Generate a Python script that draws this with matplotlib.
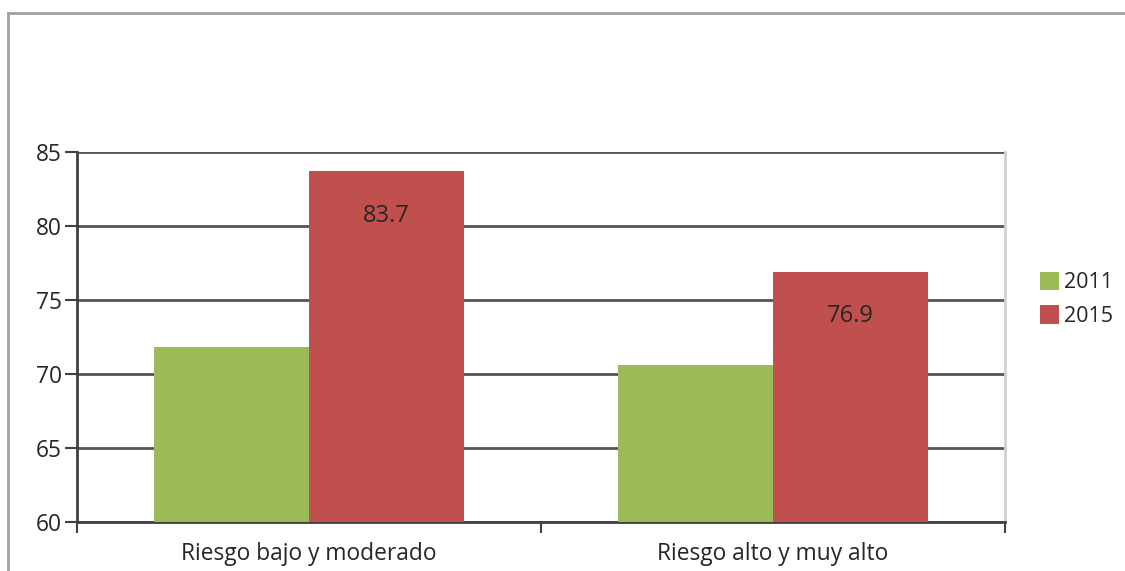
import matplotlib
matplotlib.use("Agg")
import matplotlib.pyplot as plt
from matplotlib.lines import Line2D
import numpy as np

categories = ["Riesgo bajo y moderado", "Riesgo alto y muy alto"]
series_names = ["2011", "2015"]
values_2011 = [71.8, 70.6]
values_2015 = [83.7, 76.9]
colors = ["#9BBB59", "#C0504D"]

plt.rcParams["font.family"] = ["Open Sans", "DejaVu Sans"]
text_color = "#262626"

fig = plt.figure(figsize=(11.25, 5.71), dpi=100)
ax = fig.add_axes([77 / 1125, 49 / 571, 928 / 1125, 370 / 571])

x = np.arange(len(categories))
w = 1 / 3
bars_a = ax.bar(x - w / 2, values_2011, width=w, color=colors[0], label=series_names[0], zorder=3)
bars_b = ax.bar(x + w / 2, values_2015, width=w, color=colors[1], label=series_names[1], zorder=3)

# values printed inside the top of the 2015 bars
for rect, v in zip(bars_b, values_2015):
    ax.annotate(f"{v:.1f}", xy=(rect.get_x() + rect.get_width() / 2, v),
                xytext=(0, -32), textcoords="offset points",
                ha="center", va="center", fontsize=17, color=text_color, zorder=4)

ax.set_ylim(60, 85)
ax.set_xlim(-0.5, len(categories) - 0.5)
ax.set_yticks(np.arange(60, 86, 5))
ax.yaxis.grid(True, color="#555555", linewidth=2, zorder=0)
ax.set_axisbelow(True)

# category labels centred between boundary ticks
ax.set_xticks(np.arange(-0.5, len(categories), 1.0))
ax.set_xticklabels([])
ax.set_xticks(x, minor=True)
ax.set_xticklabels(categories, minor=True, fontsize=16.4, color=text_color)
ax.tick_params(axis="x", which="minor", length=0, pad=14.5)
ax.tick_params(axis="x", which="major", length=8, width=1.5, color="#404040")
ax.tick_params(axis="y", length=9, width=1.5, color="#404040", labelsize=16.4,
               labelcolor=text_color, pad=2)

for side in ["left", "bottom"]:
    ax.spines[side].set_color("#404040")
    ax.spines[side].set_linewidth(2)
ax.spines["top"].set_visible(False)
ax.spines["right"].set_color("#d0d0d0")
ax.spines["right"].set_linewidth(2)

leg = fig.legend(loc="upper left", bbox_to_anchor=(1031 / 1125, 1 - 263 / 571),
                 frameon=False, fontsize=15.5, handlelength=0.9, handleheight=0.95,
                 handletextpad=0.25, labelspacing=0.55, borderaxespad=0)
for t in leg.get_texts():
    t.set_color(text_color)

# outer frame lines along top and left edges
fig.add_artist(Line2D([8 / 1125, 1], [1 - 13 / 571, 1 - 13 / 571],
                      transform=fig.transFigure, color="#a0a0a0", linewidth=2))
fig.add_artist(Line2D([8 / 1125, 8 / 1125], [0, 1 - 13 / 571],
                      transform=fig.transFigure, color="#a0a0a0", linewidth=2))

fig.savefig("out.png", dpi=100)
